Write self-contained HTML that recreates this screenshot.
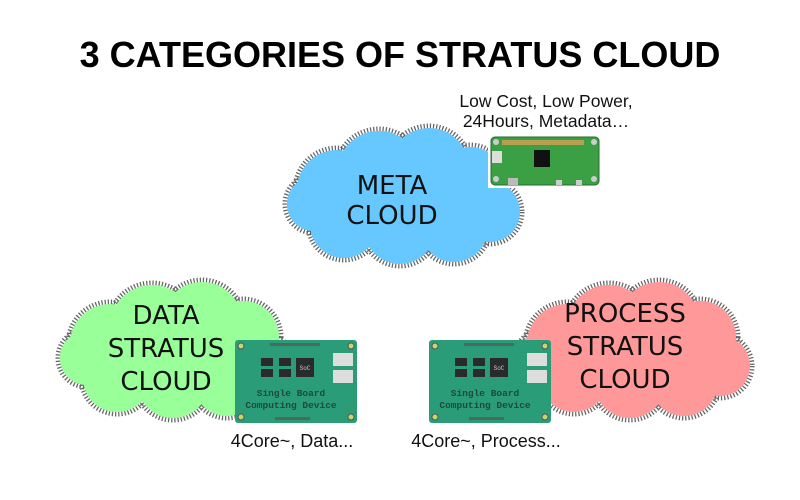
<!DOCTYPE html>
<html><head><meta charset="utf-8"><style>
html,body{margin:0;padding:0;background:#fff;width:800px;height:500px;overflow:hidden}
</style></head><body>
<svg width="800" height="500" viewBox="0 0 800 500" xmlns="http://www.w3.org/2000/svg">
<defs>
<g id="cc">
<circle cx="55" cy="62" r="40"/><circle cx="97" cy="45" r="42"/><circle cx="147" cy="40" r="40"/>
<circle cx="188" cy="55" r="36"/><circle cx="208" cy="84" r="30"/><circle cx="172" cy="100" r="34"/>
<circle cx="118" cy="100" r="36"/><circle cx="62" cy="96" r="34"/><circle cx="32" cy="76" r="27"/>
<rect x="40" y="50" width="160" height="60"/>
</g>
<g id="board">
<rect x="0" y="0" width="122" height="83" rx="3" fill="#2a9d78"/>
<circle cx="6" cy="6" r="3" fill="#c5d86d" stroke="#555" stroke-width="1"/>
<circle cx="116" cy="6" r="3" fill="#c5d86d" stroke="#555" stroke-width="1"/>
<circle cx="6" cy="77" r="3" fill="#c5d86d" stroke="#555" stroke-width="1"/>
<circle cx="116" cy="77" r="3" fill="#c5d86d" stroke="#555" stroke-width="1"/>
<rect x="35" y="3" width="50" height="3" fill="#555" opacity=".7"/>
<rect x="40" y="77" width="35" height="3" fill="#555" opacity=".7"/>
<rect x="26" y="18" width="12" height="8" fill="#2a2a2a"/><rect x="44" y="18" width="12" height="8" fill="#2a2a2a"/>
<rect x="26" y="29" width="12" height="8" fill="#2a2a2a"/><rect x="44" y="29" width="12" height="8" fill="#2a2a2a"/>
<rect x="61" y="18" width="18" height="19" fill="#2a2a2a"/>
<text x="70" y="30" font-family="Liberation Mono,monospace" font-size="6" fill="#ccc" text-anchor="middle">SoC</text>
<rect x="98" y="13" width="20" height="13" fill="#ddd"/><rect x="98" y="30" width="20" height="13" fill="#ddd"/>
<text x="56" y="56" font-family="Liberation Mono,monospace" font-weight="bold" font-size="9.5" fill="#1d4a3a" text-anchor="middle">Single Board</text>
<text x="56" y="68" font-family="Liberation Mono,monospace" font-weight="bold" font-size="9.5" fill="#1d4a3a" text-anchor="middle">Computing Device</text>
</g>
</defs>
<text x="400" y="67" text-anchor="middle" font-family="Liberation Sans,sans-serif" font-weight="bold" font-size="36" fill="#000">3 CATEGORIES OF STRATUS CLOUD</text>

<g transform="translate(282,128)">
<use href="#cc" fill="none" stroke="#666" stroke-width="9" stroke-dasharray="1.2 1.8"/>
<use href="#cc" fill="#66c8ff"/>
</g>
<text font-family="DejaVu Sans,sans-serif" font-size="26" fill="#111" text-anchor="middle"><tspan x="392" y="194">META</tspan><tspan x="392" y="224">CLOUD</tspan></text>

<g transform="translate(55,282)">
<use href="#cc" fill="none" stroke="#666" stroke-width="9" stroke-dasharray="1.2 1.8"/>
<use href="#cc" fill="#99ff99"/>
</g>
<text font-family="DejaVu Sans,sans-serif" font-size="26" fill="#111" text-anchor="middle"><tspan x="166" y="324">DATA</tspan><tspan x="166" y="357">STRATUS</tspan><tspan x="166" y="390">CLOUD</tspan></text>

<g transform="translate(512,282)">
<use href="#cc" fill="none" stroke="#666" stroke-width="9" stroke-dasharray="1.2 1.8"/>
<use href="#cc" fill="#ff9999"/>
</g>
<text font-family="DejaVu Sans,sans-serif" font-size="26" fill="#111" text-anchor="middle"><tspan x="625" y="322">PROCESS</tspan><tspan x="625" y="355">STRATUS</tspan><tspan x="625" y="388">CLOUD</tspan></text>

<rect x="488" y="136" width="113" height="52" fill="#fff"/>
<rect x="491" y="137" width="108" height="48" rx="4" fill="#3aa043" stroke="#2a6a30" stroke-width="1"/>
<rect x="502" y="140" width="82" height="5" fill="#b8a050"/>
<circle cx="496" cy="142" r="3" fill="#ccc"/><circle cx="594" cy="142" r="3" fill="#ccc"/>
<circle cx="496" cy="179" r="3" fill="#ccc"/><circle cx="594" cy="179" r="3" fill="#ccc"/>
<rect x="534" y="150" width="16" height="17" fill="#111"/>
<rect x="492" y="151" width="10" height="12" fill="#ddd"/>
<rect x="508" y="178" width="10" height="7" fill="#bbb"/>
<rect x="556" y="180" width="6" height="5" fill="#ccc"/><rect x="576" y="180" width="6" height="5" fill="#ccc"/>
<text font-family="Liberation Sans,sans-serif" font-size="17.5" fill="#111" text-anchor="middle"><tspan x="546" y="107">Low Cost, Low Power,</tspan><tspan x="546" y="127">24Hours, Metadata…</tspan></text>

<g transform="translate(235,340)"><use href="#board"/></g>
<g transform="translate(429,340)"><use href="#board"/></g>

<text x="292" y="447" text-anchor="middle" font-family="Liberation Sans,sans-serif" font-size="18" fill="#111">4Core~, Data...</text>
<text x="486" y="447" text-anchor="middle" font-family="Liberation Sans,sans-serif" font-size="18" fill="#111">4Core~,  Process...</text>
</svg>
</body></html>
